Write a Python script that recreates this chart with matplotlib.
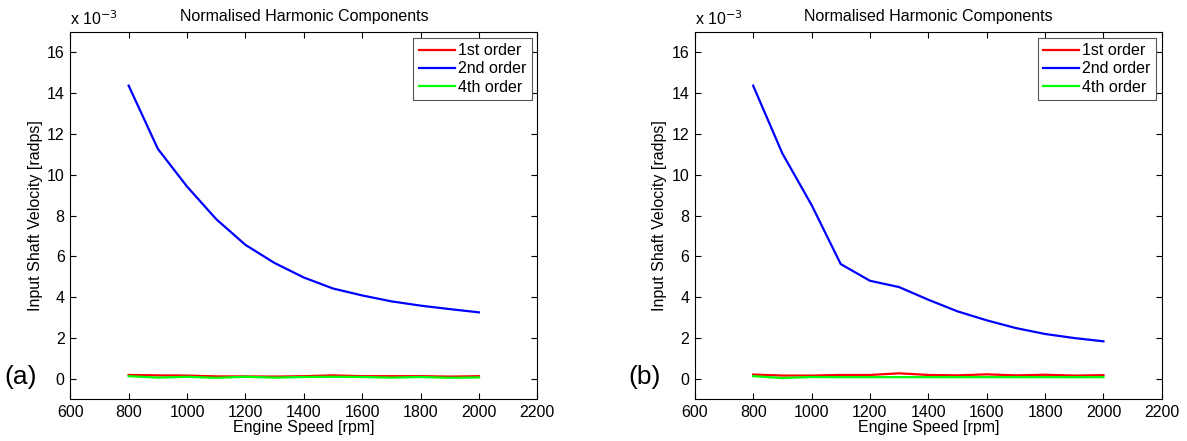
import numpy as np
import matplotlib.pyplot as plt

plt.rcParams['font.family'] = ['Liberation Sans', 'DejaVu Sans']
plt.rcParams['font.size'] = 11.5

# engine speed sweep [rpm]
rpm = [800, 900, 1000, 1100, 1200, 1300, 1400, 1500, 1600, 1700, 1800, 1900, 2000]

# harmonic amplitudes, x 1e-3 radps
a_1st = [0.18, 0.16, 0.15, 0.11, 0.11, 0.10, 0.12, 0.16, 0.12, 0.12, 0.12, 0.10, 0.12]
a_2nd = [14.37, 11.27, 9.42, 7.82, 6.56, 5.67, 4.96, 4.42, 4.08, 3.79, 3.58, 3.41, 3.25]
a_4th = [0.12, 0.05, 0.09, 0.04, 0.09, 0.05, 0.08, 0.09, 0.08, 0.05, 0.08, 0.04, 0.06]

b_1st = [0.20, 0.15, 0.15, 0.18, 0.18, 0.26, 0.18, 0.16, 0.21, 0.16, 0.19, 0.15, 0.17]
b_2nd = [14.37, 11.05, 8.52, 5.62, 4.80, 4.49, 3.87, 3.30, 2.86, 2.48, 2.19, 1.99, 1.83]
b_4th = [0.12, 0.03, 0.08, 0.07, 0.07, 0.07, 0.07, 0.07, 0.07, 0.07, 0.07, 0.07, 0.07]

panels = [('(a)', a_1st, a_2nd, a_4th), ('(b)', b_1st, b_2nd, b_4th)]
labels = ['1st order', '2nd order', '4th order']
colors = ['#ff0000', '#0000ff', '#00ff00']

fig = plt.figure(figsize=(11.87, 4.41), dpi=100)
lefts = [0.0592, 0.5853]

for left, (tag, h1, h2, h4) in zip(lefts, panels):
    ax = fig.add_axes([left, 0.0952, 0.3935, 0.8322])
    for y, lab, c in zip([h1, h2, h4], labels, colors):
        ax.plot(rpm, y, color=c, lw=1.6, label=lab)
    ax.set_xlim(600, 2200)
    ax.set_ylim(-1, 17)
    ax.set_xticks(np.arange(600, 2201, 200))
    ax.set_yticks(np.arange(0, 17, 2))
    ax.tick_params(direction='in', length=4, top=True, right=True, width=0.8,
                   pad=4)
    for s in ax.spines.values():
        s.set_linewidth(0.8)
    ax.set_title('Normalised Harmonic Components', fontsize=11.5, pad=8)
    ax.set_xlabel('Engine Speed [rpm]', labelpad=0)
    ax.set_ylabel('Input Shaft Velocity [radps]', labelpad=3)
    ax.text(0.0, 1.01, 'x 10$^{-3}$', transform=ax.transAxes, fontsize=11.5,
            ha='left', va='bottom')
    ax.text(-0.072, 0.06, tag, transform=ax.transAxes, fontsize=19,
            ha='right', va='center')
    leg = ax.legend(loc='upper right', fancybox=False, framealpha=1,
                    edgecolor='#555555', handlelength=2.25, handletextpad=0.2,
                    labelspacing=0.2, borderpad=0.35, borderaxespad=0.35)
    leg.get_frame().set_linewidth(0.8)

fig.savefig('out.png', dpi=100)
